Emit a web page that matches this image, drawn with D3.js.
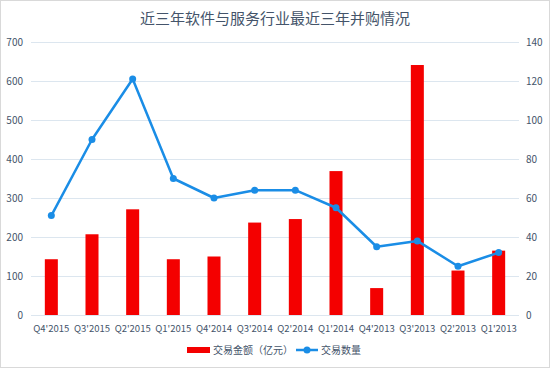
<!DOCTYPE html>
<html>
<head>
<meta charset="utf-8">
<script src="https://cdn.jsdelivr.net/npm/d3@7"></script>
<style>
	body { margin: 0; background: #fff; }
	svg { display: block; font-family: "Noto Sans CJK SC", "Noto Sans", sans-serif; }
	.tick-label { fill: #44546a; font-size: 10px; }
</style>
</head>
<body>
<div id="chart"></div>
<script>
// Data
const quarters = ["Q4'2015", "Q3'2015", "Q2'2015", "Q1'2015", "Q4'2014", "Q3'2014",
	"Q2'2014", "Q1'2014", "Q4'2013", "Q3'2013", "Q2'2013", "Q1'2013"];
const amounts = [143, 207, 271, 143, 150, 237, 246, 369, 69, 641, 114, 165];
const counts = [51, 90, 121, 70, 60, 64, 64, 55, 35, 38, 25, 32];
const leftTicks = [0, 100, 200, 300, 400, 500, 600, 700];
const rightTicks = [0, 20, 40, 60, 80, 100, 120, 140];

const W = 550, H = 368;
const margin = {top: 42, right: 31, bottom: 53, left: 31};

const svg = d3.select("#chart").append("svg")
	.attr("width", W)
	.attr("height", H);

// Frame
svg.append("rect")
	.attr("x", 0.5).attr("y", 0.5)
	.attr("width", W - 1).attr("height", H - 1)
	.attr("fill", "#fff")
	.attr("stroke", "#d9d9d9");

const x = d3.scaleBand()
	.domain(quarters)
	.range([margin.left, W - margin.right])
	.paddingInner(0.68)
	.paddingOuter(0.34);

const yL = d3.scaleLinear().domain([0, 700]).range([H - margin.bottom, margin.top]);
const yR = d3.scaleLinear().domain([0, 140]).range([H - margin.bottom, margin.top]);

// Gridlines
svg.append("g")
	.selectAll("line")
	.data(leftTicks)
	.enter()
	.append("line")
		.attr("x1", margin.left)
		.attr("x2", W - margin.right)
		.attr("y1", d => Math.round(yL(d)) + 0.5)
		.attr("y2", d => Math.round(yL(d)) + 0.5)
		.attr("stroke", "#dce6ef")
		.attr("stroke-width", 1);

// Axis labels
svg.append("g")
	.selectAll("text")
	.data(leftTicks)
	.enter()
	.append("text")
		.attr("class", "tick-label")
		.attr("x", 23)
		.attr("y", d => yL(d))
		.attr("dy", "0.35em")
		.style("text-anchor", "end")
		.text(d => d);

svg.append("g")
	.selectAll("text")
	.data(rightTicks)
	.enter()
	.append("text")
		.attr("class", "tick-label")
		.attr("x", 526)
		.attr("y", d => yR(d))
		.attr("dy", "0.35em")
		.style("text-anchor", "start")
		.text(d => d);

svg.append("g")
	.selectAll("text")
	.data(quarters)
	.enter()
	.append("text")
		.attr("class", "tick-label")
		.attr("x", d => x(d) + x.bandwidth() / 2)
		.attr("y", 329)
		.attr("dy", "0.35em")
		.style("text-anchor", "middle")
		.style("font-size", "9.5px")
		.text(d => d);

// Bars
svg.append("g")
	.selectAll("rect")
	.data(amounts)
	.enter()
	.append("rect")
		.attr("x", (d, i) => x(quarters[i]))
		.attr("y", d => yL(d))
		.attr("width", x.bandwidth())
		.attr("height", d => yL(0) - yL(d))
		.attr("fill", "#f40000");

// Line
const line = d3.line()
	.x((d, i) => x(quarters[i]) + x.bandwidth() / 2)
	.y(d => yR(d));

svg.append("path")
	.datum(counts)
	.attr("d", line)
	.attr("fill", "none")
	.attr("stroke", "#1a8de6")
	.attr("stroke-width", 2.5)
	.attr("stroke-linejoin", "round");

svg.append("g")
	.selectAll("circle")
	.data(counts)
	.enter()
	.append("circle")
		.attr("cx", (d, i) => x(quarters[i]) + x.bandwidth() / 2)
		.attr("cy", d => yR(d))
		.attr("r", 3.5)
		.attr("fill", "#1a8de6");

// Title
svg.append("text")
	.attr("x", 275)
	.attr("y", 19)
	.attr("dy", "0.35em")
	.style("text-anchor", "middle")
	.style("font-size", "15px")
	.attr("fill", "#44546a")
	.text("近三年软件与服务行业最近三年并购情况");

// Legend
const legend = svg.append("g").attr("transform", "translate(0, 350)");
legend.append("rect")
	.attr("x", 187).attr("y", -3)
	.attr("width", 23).attr("height", 6)
	.attr("fill", "#f40000");
legend.append("text")
	.attr("class", "tick-label")
	.attr("x", 213).attr("dy", "0.35em")
	.text("交易金额（亿元）");
legend.append("line")
	.attr("x1", 296).attr("x2", 318)
	.attr("stroke", "#1a8de6").attr("stroke-width", 2.5);
legend.append("circle")
	.attr("cx", 307).attr("r", 3.5)
	.attr("fill", "#1a8de6");
legend.append("text")
	.attr("class", "tick-label")
	.attr("x", 321).attr("dy", "0.35em")
	.text("交易数量");
</script>
</body>
</html>
